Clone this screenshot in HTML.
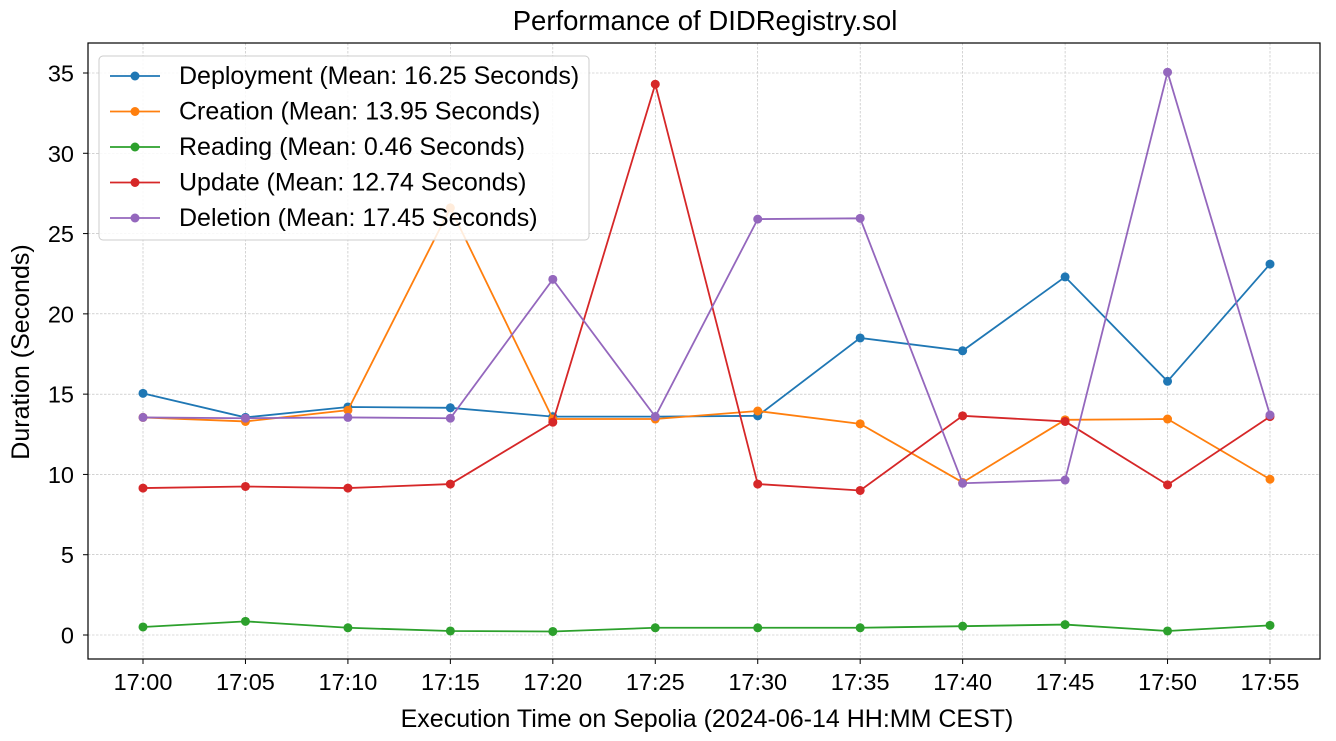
<!DOCTYPE html>
<html><head><meta charset="utf-8"><style>
body{margin:0;background:#fff;}
svg{font-family:"Liberation Sans",Arial,sans-serif;display:block;}
</style></head><body>
<svg id="chart" width="1336" height="741"></svg>
<script>
const categories=["17:00","17:05","17:10","17:15","17:20","17:25","17:30","17:35","17:40","17:45","17:50","17:55"];
const deployment=[15.05,13.55,14.2,14.15,13.6,13.6,13.65,18.5,17.7,22.3,15.8,23.1];
const creation=[13.55,13.3,14.0,26.6,13.45,13.45,13.95,13.15,9.5,13.4,13.45,9.7];
const reading=[0.5,0.85,0.45,0.25,0.22,0.45,0.45,0.45,0.55,0.65,0.25,0.6];
const update=[9.15,9.25,9.15,9.4,13.25,34.3,9.4,9.0,13.65,13.3,9.35,13.6];
const deletion=[13.55,13.5,13.55,13.5,22.15,13.6,25.9,25.95,9.45,9.65,35.05,13.7];
const yTicks=[0,5,10,15,20,25,30,35];
const seriesNames=["Deployment (Mean: 16.25 Seconds)","Creation (Mean: 13.95 Seconds)","Reading (Mean: 0.46 Seconds)","Update (Mean: 12.74 Seconds)","Deletion (Mean: 17.45 Seconds)"];
const seriesKeys=["deployment","creation","reading","update","deletion"];

const NS="http://www.w3.org/2000/svg";
const svg=document.getElementById('chart');
const L=88,R=1320,T=43,B=659;
const x=i=>143+i*(1270-143)/11;
const y=v=>635-v*(635-73)/35;
function el(t,a,p){const e=document.createElementNS(NS,t);for(const k in a)e.setAttribute(k,a[k]);(p||svg).appendChild(e);return e;}
const colors=["#1f77b4","#ff7f0e","#2ca02c","#d62728","#9467bd"];
const data=[deployment,creation,reading,update,deletion];

categories.forEach((c,i)=>{
 const g=el('line',{x1:x(i),x2:x(i),y1:T,y2:B,stroke:'#b8b8b8','stroke-width':0.6,'stroke-dasharray':'2.5,1.5'});
 
 
 el('line',{x1:x(i),x2:x(i),y1:B,y2:B+5,stroke:'#000'});
 const t=el('text',{x:x(i),y:B+31,'text-anchor':'middle','font-size':23.5});
 t.textContent=c;
 
 
});
yTicks.forEach(v=>{
 const g=el('line',{x1:L,x2:R,y1:y(v),y2:y(v),stroke:'#b8b8b8','stroke-width':0.6,'stroke-dasharray':'2.5,1.5'});
 
 
 el('line',{x1:L-5,x2:L,y1:y(v),y2:y(v),stroke:'#000'});
 const t=el('text',{x:L-14,y:y(v)+8.5,'text-anchor':'end','font-size':23.5});
 t.textContent=v;
 
 
});
data.forEach((d,s)=>{
 const p=el('polyline',{points:d.map((v,i)=>x(i)+','+y(v)).join(' '),fill:'none',stroke:colors[s],'stroke-width':1.8});
 
 
 d.forEach((v,i)=>{
  const c=el('circle',{cx:x(i),cy:y(v),r:4.5,fill:colors[s]});
  
  
 });
});
const frame=el('rect',{x:L,y:T,width:R-L,height:B-T,fill:'none',stroke:'#000','stroke-width':1.2});


const lg=el('g',{});


el('rect',{x:99,y:56,width:490,height:184,rx:4,fill:'#fff','fill-opacity':0.85,stroke:'#ccc'},lg);
seriesNames.forEach((n,s)=>{
 const yy=76+s*35.5;
 el('line',{x1:110,x2:160,y1:yy,y2:yy,stroke:colors[s],'stroke-width':1.8},lg);
 el('circle',{cx:135,cy:yy,r:4.5,fill:colors[s]},lg);
 const t=el('text',{x:179,y:yy+8,'font-size':25},lg);
 t.textContent=n;
 
 
});
const title=el('text',{x:705,y:30,'text-anchor':'middle','font-size':27.5});
title.textContent='Performance of DIDRegistry.sol';


const xt=el('text',{x:707,y:727,'text-anchor':'middle','font-size':25});
xt.textContent='Execution Time on Sepolia (2024-06-14 HH:MM CEST)';


const yt=el('text',{x:29,y:352,'text-anchor':'middle','font-size':25,transform:'rotate(-90 29 352)'});
yt.textContent='Duration (Seconds)';


</script>
</body></html>
